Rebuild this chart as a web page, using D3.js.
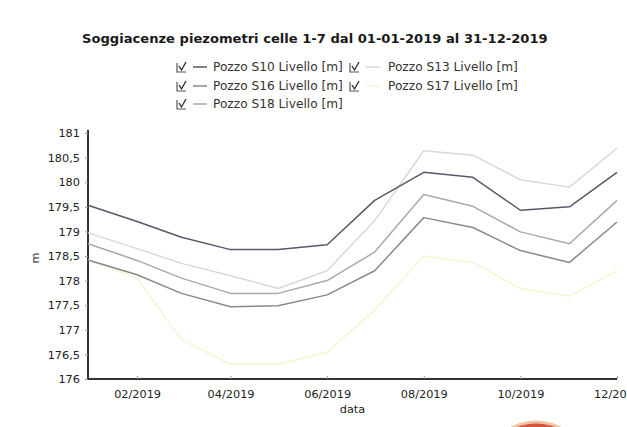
<!DOCTYPE html>
<html>
<head>
<meta charset="utf-8">
<script src="https://cdn.jsdelivr.net/npm/d3@7"></script>
<style>
  body { margin: 0; background: #fff; }
  svg { display: block; font-family: "DejaVu Sans", Verdana, sans-serif; }
</style>
</head>
<body>
<svg id="chart" width="627" height="427"></svg>
<script>
// monthly readings, 1st of each month 2019
var months = ["2019-01-01","2019-02-01","2019-03-01","2019-04-01","2019-05-01","2019-06-01",
              "2019-07-01","2019-08-01","2019-09-01","2019-10-01","2019-11-01","2019-12-01"];
var s10 = [179.53, 179.2, 178.88, 178.63, 178.63, 178.73, 179.63, 180.2, 180.1, 179.43, 179.5, 180.2];
var s13 = [178.97, 178.65, 178.35, 178.1, 177.84, 178.2, 179.22, 180.64, 180.55, 180.05, 179.9, 180.69];
var s16 = [178.42, 178.12, 177.74, 177.47, 177.49, 177.71, 178.2, 179.28, 179.08, 178.61, 178.37, 179.19];
var s17 = [178.42, 178.05, 176.8, 176.3, 176.3, 176.55, 177.4, 178.5, 178.37, 177.84, 177.68, 178.2];
var s18 = [178.75, 178.41, 178.05, 177.74, 177.74, 178.0, 178.58, 179.75, 179.51, 178.99, 178.75, 179.63];
var seriesNames = ["Pozzo S10 Livello [m]", "Pozzo S13 Livello [m]", "Pozzo S16 Livello [m]",
                   "Pozzo S17 Livello [m]", "Pozzo S18 Livello [m]"];
var yTicks = [176, 176.5, 177, 177.5, 178, 178.5, 179, 179.5, 180, 180.5, 181];
var xTickMonths = ["2019-02-01","2019-04-01","2019-06-01","2019-08-01","2019-10-01","2019-12-01"];

var title = "Soggiacenze piezometri celle 1-7 dal 01-01-2019 al 31-12-2019";

(function () {
  var parse = d3.timeParse("%Y-%m-%d");
  var dates = months.map(parse);

  var series = [
    { name: seriesNames[0], values: s10, color: "#555a68" },
    { name: seriesNames[1], values: s13, color: "#d8d8da" },
    { name: seriesNames[2], values: s16, color: "#8e8888" },
    { name: seriesNames[3], values: s17, color: "#f7f4d2" },
    { name: seriesNames[4], values: s18, color: "#a9a9ab" }
  ];

  var svg = d3.select("#chart");
  var left = 88, right = 617, plotTop = 133, bottom = 379;

  var x = d3.scaleTime().domain([dates[0], dates[dates.length - 1]]).range([left, right]);
  var y = d3.scaleLinear().domain([176, 181]).range([bottom, plotTop]);

  // title
  var t = svg.append("text")
    .attr("x", 82).attr("y", 43)
    .attr("font-weight", "bold").attr("font-size", 12)
    .attr("fill", "#1a1a1a")
    .text(title);
  t.attr("font-size", 12 * 466 / t.node().getComputedTextLength());

  // legend
  var legendPos = [[177, 67], [350, 67], [177, 86], [350, 86], [177, 104]];
  series.forEach(function (s, i) {
    var g = svg.append("g").attr("transform", "translate(" + legendPos[i][0] + "," + legendPos[i][1] + ")");
    g.append("path").attr("d", "M0,-4 V5 H9").attr("fill", "none").attr("stroke", "#555").attr("stroke-width", 1.2);
    g.append("path").attr("d", "M2,-1 L4.5,3 L9,-5").attr("fill", "none").attr("stroke", "#333").attr("stroke-width", 1.4);
    g.append("line").attr("x1", 16).attr("x2", 30).attr("y1", 0).attr("y2", 0)
      .attr("stroke", s.color).attr("stroke-width", 1.5);
    var lt = g.append("text").attr("x", i % 2 ? 38 : 36).attr("y", 4)
      .attr("font-size", 11).attr("fill", "#333").text(s.name);
    lt.attr("font-size", 11 * 130 / lt.node().getComputedTextLength());
  });

  // axes
  var yAxis = svg.append("g").attr("transform", "translate(" + left + ",0)")
    .call(d3.axisLeft(y).tickValues(yTicks).tickSize(3).tickPadding(5)
      .tickFormat(function (d) { return String(d).replace(".", ","); }));
  var xAxis = svg.append("g").attr("transform", "translate(0," + bottom + ")")
    .call(d3.axisBottom(x).tickValues(xTickMonths.map(parse)).tickSize(3).tickPadding(6)
      .tickFormat(d3.timeFormat("%m/%Y")));

  [yAxis, xAxis].forEach(function (a) {
    a.select(".domain").attr("stroke", "#333").attr("stroke-width", 2);
    a.selectAll(".tick line").attr("stroke", "#999");
    a.selectAll("text").attr("font-size", 11.3).attr("fill", "#222")
      .attr("font-family", "DejaVu Sans, Verdana, sans-serif");
  });
  yAxis.select(".domain").attr("d", "M0," + (plotTop - 3) + "V" + bottom);
  xAxis.select(".domain").attr("d", "M" + left + ",0H" + right);
  xAxis.selectAll(".tick line").attr("y2", -3);
  xAxis.selectAll(".tick text").attr("dy", "0.9em");

  svg.append("text").attr("x", (left + right) / 2).attr("y", 413)
    .attr("text-anchor", "middle").attr("font-size", 11.3).attr("fill", "#222").text("data");
  svg.append("text").attr("transform", "translate(39,258) rotate(-90)")
    .attr("text-anchor", "middle").attr("font-size", 11.3).attr("fill", "#333").text("m");

  // lines
  var line = d3.line().x(function (d, i) { return x(dates[i]); }).y(function (d) { return y(d); });
  [3, 2, 4, 1, 0].forEach(function (k) {
    svg.append("path").datum(series[k].values)
      .attr("fill", "none").attr("stroke", series[k].color).attr("stroke-width", 1.5)
      .attr("stroke-linejoin", "round")
      .attr("d", line);
  });

  // stamp edge at bottom
  svg.append("ellipse").attr("cx", 536).attr("cy", 462).attr("rx", 46).attr("ry", 40)
    .attr("fill", "#d2553e").attr("stroke", "#f3c4a4").attr("stroke-width", 3);
})();
</script>
</body>
</html>
